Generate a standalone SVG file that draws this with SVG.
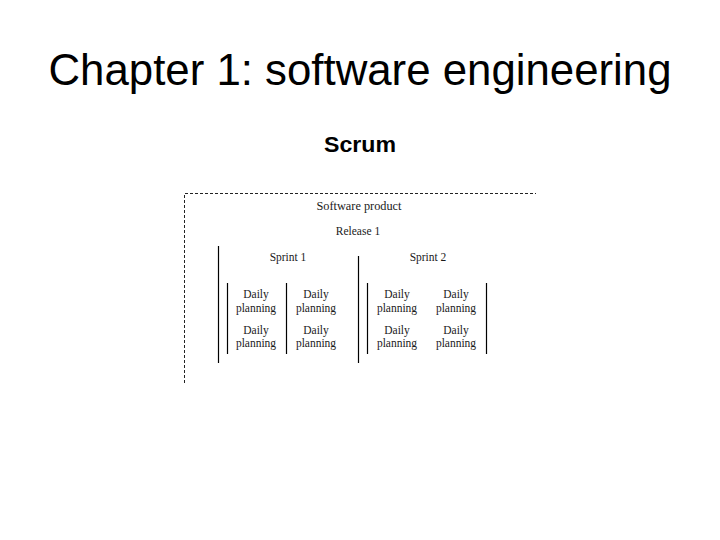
<svg xmlns="http://www.w3.org/2000/svg" width="720" height="540" viewBox="0 0 720 540">
<style>
.title{font-family:"Liberation Sans",Arial,sans-serif;font-size:44px;fill:#000}
.sub{font-family:"Liberation Sans",Arial,sans-serif;font-size:21.5px;font-weight:bold;fill:#000}
.t{font-family:"Liberation Serif","Times New Roman",serif;font-size:11.5px;fill:#1a1a1a;text-anchor:middle}
.dash{stroke:#222;stroke-width:1;stroke-dasharray:3 2;fill:none}
.solid{stroke:#000;stroke-width:1.2;fill:none}
</style>
<rect width="720" height="540" fill="#fff"/>
<text class="title" x="360" y="85" text-anchor="middle" textLength="623" lengthAdjust="spacingAndGlyphs">Chapter 1: software engineering</text>
<text class="sub" x="360" y="152" text-anchor="middle" textLength="72" lengthAdjust="spacingAndGlyphs">Scrum</text>
<g id="connectors">
<path class="dash" d="M184.5 383 V193.5 H536"/>
<path class="solid" d="M218.5 246 V363"/>
<path class="solid" d="M358.5 256 V363"/>
<path class="solid" d="M227.5 283 V354"/>
<path class="solid" d="M286.5 283 V354"/>
<path class="solid" d="M367.5 283 V354"/>
<path class="solid" d="M486.5 283 V354"/>
</g>
<g id="software-product"><text class="t" x="359" y="210" font-size="12" textLength="85" lengthAdjust="spacingAndGlyphs">Software product</text></g>
<g id="release-1"><text class="t" x="358" y="235" font-size="12">Release 1</text></g>
<g id="sprint-1"><text class="t" x="288" y="261" font-size="12">Sprint 1</text></g>
<g id="sprint-2"><text class="t" x="428" y="261" font-size="12">Sprint 2</text></g>
<g id="daily-1-1"><text class="t" x="256" y="298">Daily</text><text class="t" x="256" y="312">planning</text></g>
<g id="daily-1-2"><text class="t" x="316" y="298">Daily</text><text class="t" x="316" y="312">planning</text></g>
<g id="daily-1-3"><text class="t" x="256" y="334">Daily</text><text class="t" x="256" y="347">planning</text></g>
<g id="daily-1-4"><text class="t" x="316" y="334">Daily</text><text class="t" x="316" y="347">planning</text></g>
<g id="daily-2-1"><text class="t" x="397" y="298">Daily</text><text class="t" x="397" y="312">planning</text></g>
<g id="daily-2-2"><text class="t" x="456" y="298">Daily</text><text class="t" x="456" y="312">planning</text></g>
<g id="daily-2-3"><text class="t" x="397" y="334">Daily</text><text class="t" x="397" y="347">planning</text></g>
<g id="daily-2-4"><text class="t" x="456" y="334">Daily</text><text class="t" x="456" y="347">planning</text></g>
</svg>
